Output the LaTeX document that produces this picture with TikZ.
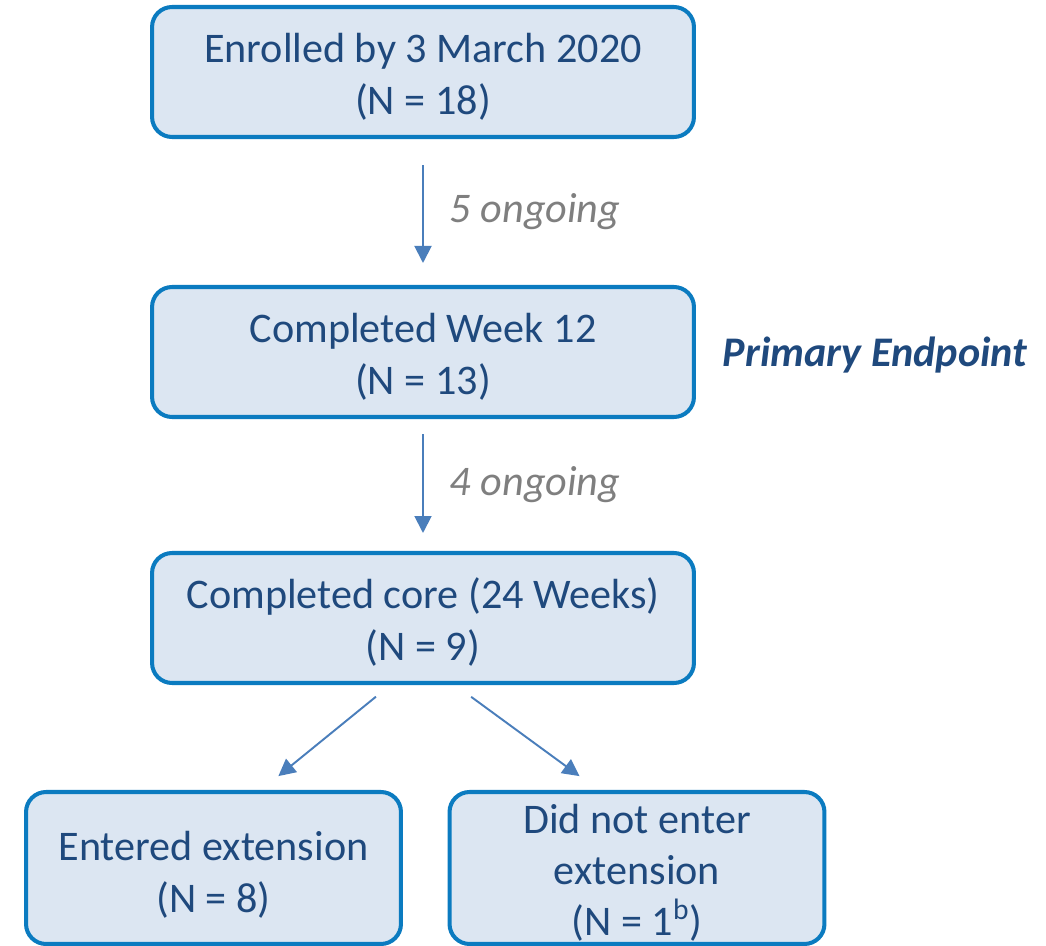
\documentclass[tikz,border=0pt]{standalone}
\usepackage{fontspec}
\setmainfont{Carlito}
\usepackage{tikz}
\usetikzlibrary{arrows.meta}

\definecolor{boxline}{HTML}{0B7BC0}
\definecolor{boxfill}{HTML}{DCE6F2}
\definecolor{boxtext}{HTML}{1F497D}
\definecolor{flowline}{HTML}{4A7EBB}
\definecolor{notegray}{HTML}{7F7F7F}

% invisible strut that pushes the box text a little down
\newcommand{\topgap}[1]{\rule{0pt}{#1}}

\begin{document}
\begin{tikzpicture}[x=0.02cm, y=-0.02cm,
        stage/.style={shape=rectangle, rounded corners=0.4cm, draw=boxline, fill=boxfill,
                      line width=2.3pt, text=boxtext, align=center, inner sep=0pt,
                      font=\fontsize{24}{29.5}\selectfont},
        wide/.style={stage, minimum width=10.84cm, minimum height=2.6cm},
        half/.style={stage, minimum width=7.5cm, minimum height=3.04cm},
        flow/.style={draw=flowline, fill=flowline, line width=1.1pt,
                     -{Triangle[length=0.34cm, width=0.34cm]}},
        note/.style={text=notegray, font=\fontsize{24}{29}\selectfont\itshape}]
        \useasboundingbox (0, 0) rectangle (1046, 946);

        \node[wide] (enrolled)  at (423, 72)   {\topgap{0.78cm}Enrolled by 3 March 2020\\(N = 18)};
        \node[wide] (week)      at (423, 352)  {\topgap{0.78cm}Completed Week 12\\(N = 13)};
        \node[wide] (core)      at (423, 618)  {\topgap{0.78cm}Completed core (24 Weeks)\\(N = 9)};
        \node[half] (entered)   at (213.5, 868) {\topgap{0.85cm}Entered extension\\(N = 8)};
        \node[half, font=\fontsize{24}{29}\selectfont] (notenter) at (637, 868) {\topgap{0.76cm}Did not enter\\extension\\(N = 1\textsuperscript{b})};
        \node[text=boxtext, font=\fontsize{24}{29}\selectfont\bfseries\itshape] (primary) at (875, 355) {Primary Endpoint};

	\draw[flow, shorten <=0.52cm, shorten >=0.44cm] (enrolled) -- node[note, right=0.4cm]{5 ongoing} (week);
	\draw[flow, shorten <=0.3cm, shorten >=0.36cm] (week) -- node[note, right=0.4cm]{4 ongoing} (core);
	\draw[flow, shorten <=0.37cm, shorten >=0.44cm] ([xshift=-0.654cm]core.south) -- ([xshift=0.956cm]entered.north);
	\draw[flow, shorten <=0.40cm, shorten >=0.47cm] ([xshift=0.64cm]core.south) -- ([xshift=-0.77cm]notenter.north);
	\end{tikzpicture}
\end{document}
